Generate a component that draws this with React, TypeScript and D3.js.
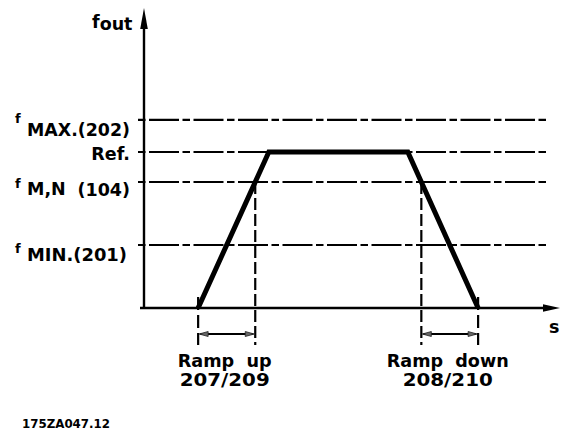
import React, { useEffect, useRef } from 'react';
import * as d3 from 'd3';

// frequency levels (percent of the axis height)
const levelKeys = ['fmax', 'ref', 'fmn', 'fmin'];
const levelValues = [62.7, 52, 42, 21];
const levelPrefix = ['f', '', 'f', 'f'];
const levelMain = ['MAX.(202)', 'Ref.', 'M,N', 'MIN.(201)'];
const levelSuffix = ['', '', '(104)', ''];

// output frequency profile (time, frequency)
const profileTimes = [13.4, 30.9, 65.3, 82.7];
const profileFreqs = [0, 52, 52, 0];

const rampTitles = ['Ramp  up', 'Ramp  down'];
const rampParams = ['207/209', '208/210'];
const drawingId = '175ZA047.12';

const W = 561;
const H = 432;
const FONT = '"DejaVu Sans", Verdana, sans-serif';

const Chart: React.FC = () => {
  const ref = useRef<SVGSVGElement>(null);

  useEffect(() => {
    if (!ref.current) return;
    const svg = d3.select(ref.current);
    svg.selectAll('*').remove();

    const x = d3.scaleLinear().domain([0, 100]).range([144, 548]);
    const y = d3.scaleLinear().domain([0, 100]).range([308, 8]);

    const x0 = x(0);
    const y0 = y(0);

    // dash-dot level lines
    svg
      .append('g')
      .selectAll('line')
      .data(levelValues)
      .enter()
      .append('line')
      .attr('x1', x0 - 6)
      .attr('x2', x(100))
      .attr('y1', (d) => y(d))
      .attr('y2', (d) => y(d))
      .attr('stroke', '#000')
      .attr('stroke-width', 2.2)
      .attr('stroke-dasharray', '30,3.5,7.5,3.5')
      .attr('stroke-dashoffset', 33.5);

    // axes
    svg
      .append('line')
      .attr('x1', x0)
      .attr('x2', x0)
      .attr('y1', y0)
      .attr('y2', y(100) + 14)
      .attr('stroke', '#000')
      .attr('stroke-width', 2.4);
    const yTip = y(100);
    svg
      .append('path')
      .attr('d', `M${x0},${yTip} L${x0 + 3.8},${yTip + 21} L${x0 - 3.8},${yTip + 21} Z`)
      .attr('fill', '#000');

    const xEnd = x(100) + 12;
    svg
      .append('line')
      .attr('x1', x0 - 4)
      .attr('x2', xEnd - 10)
      .attr('y1', y0)
      .attr('y2', y0)
      .attr('stroke', '#000')
      .attr('stroke-width', 2.4);
    svg
      .append('path')
      .attr('d', `M${xEnd},${y0} L${xEnd - 17},${y0 - 3.8} L${xEnd - 17},${y0 + 3.8} Z`)
      .attr('fill', '#000');

    // ramp marks: start/end of ramp and crossing with fM,N level
    const fmn = levelValues[levelKeys.indexOf('fmn')];
    const cross = (i: number, j: number) =>
      profileTimes[i] +
      ((fmn - profileFreqs[i]) / (profileFreqs[j] - profileFreqs[i])) *
        (profileTimes[j] - profileTimes[i]);
    const ramps = [
      { a: profileTimes[0], b: cross(0, 1), fromAxis: [true, false] },
      { a: cross(2, 3), b: profileTimes[3], fromAxis: [false, true] },
    ];

    const dimY = y0 + 26;
    const extBottom = y0 + 37;

    ramps.forEach((r, i) => {
      [r.a, r.b].forEach((t, k) => {
        const top = r.fromAxis[k] ? y0 - 11 : y(fmn);
        svg
          .append('line')
          .attr('x1', x(t))
          .attr('x2', x(t))
          .attr('y1', top)
          .attr('y2', extBottom)
          .attr('stroke', '#000')
          .attr('stroke-width', 2.2)
          .attr('stroke-dasharray', r.fromAxis[k] ? '13,5' : '12,4');
      });
      const xa = x(r.a);
      const xb = x(r.b);
      svg
        .append('line')
        .attr('x1', xa + 2)
        .attr('x2', xb - 2)
        .attr('y1', dimY)
        .attr('y2', dimY)
        .attr('stroke', '#000')
        .attr('stroke-width', 2);
      svg
        .append('path')
        .attr('d', `M${xa + 1},${dimY} L${xa + 10},${dimY - 2.5} L${xa + 10},${dimY + 2.5} Z M${xb - 1},${dimY} L${xb - 10},${dimY - 2.5} L${xb - 10},${dimY + 2.5} Z`)
        .attr('fill', '#666')
        .attr('stroke', '#222')
        .attr('stroke-width', 0.8);

      const cx = (xa + xb) / 2;
      svg
        .append('text')
        .attr('x', cx - 2)
        .attr('y', y0 + 59)
        .attr('text-anchor', 'middle')
        .attr('textLength', i === 0 ? 94 : 122)
        .attr('lengthAdjust', 'spacingAndGlyphs')
        .style('white-space', 'pre')
        .text(rampTitles[i]);
      svg
        .append('text')
        .attr('x', cx - 2)
        .attr('y', y0 + 78)
        .attr('text-anchor', 'middle')
        .attr('textLength', 90)
        .attr('lengthAdjust', 'spacingAndGlyphs')
        .text(rampParams[i]);
    });

    // frequency profile
    const line = d3
      .line<number>()
      .x((_, i) => x(profileTimes[i]))
      .y((d) => y(d));
    svg
      .append('path')
      .attr('d', line(profileFreqs))
      .attr('fill', 'none')
      .attr('stroke', '#000')
      .attr('stroke-width', 5)
      .attr('stroke-linejoin', 'miter');

    // level labels
    const mainDy = [16, 8, 13, 16];
    const prefDy = [3, 0, 6, 8];
    const mainLen = [103, 0, 0, 100];
    levelValues.forEach((v, i) => {
      const ly = y(v);
      if (levelPrefix[i]) {
        svg
          .append('text')
          .attr('x', 15)
          .attr('y', ly + prefDy[i])
          .style('font-size', '13px')
          .text(levelPrefix[i]);
      }
      const t = svg.append('text').attr('y', ly + mainDy[i]).text(levelMain[i]);
      if (mainLen[i]) {
        t.attr('x', 27).attr('textLength', mainLen[i]).attr('lengthAdjust', 'spacingAndGlyphs');
      } else if (levelSuffix[i]) {
        t.attr('x', 27);
        svg
          .append('text')
          .attr('x', 130)
          .attr('y', ly + mainDy[i] + 1)
          .attr('text-anchor', 'end')
          .text(levelSuffix[i]);
      } else {
        t.attr('x', 130).attr('text-anchor', 'end');
      }
    });

    // axis titles
    const fout = svg.append('text').attr('x', 92).attr('y', 28);
    fout.append('tspan').text('f');
    fout.append('tspan').attr('dy', 2).text('out');
    svg.append('text').attr('x', 549).attr('y', y0 + 25).text('s');

    svg
      .append('text')
      .attr('x', 22)
      .attr('y', 428)
      .style('font-size', '12.5px')
      .attr('textLength', 88)
      .attr('lengthAdjust', 'spacingAndGlyphs')
      .text(drawingId);

    svg
      .selectAll('text')
      .style('font-family', FONT)
      .style('font-weight', 'bold')
      .attr('fill', '#000');
    svg.selectAll('text').each(function () {
      const el = this as SVGTextElement;
      if (!el.style.fontSize) el.style.fontSize = '17.5px';
    });
  }, []);

  return (
    <svg
      ref={ref}
      width={W}
      height={H}
      style={{ position: 'absolute', left: 0, top: 0, background: '#fff' }}
    />
  );
};

export default function App() {
  return <Chart />;
}
